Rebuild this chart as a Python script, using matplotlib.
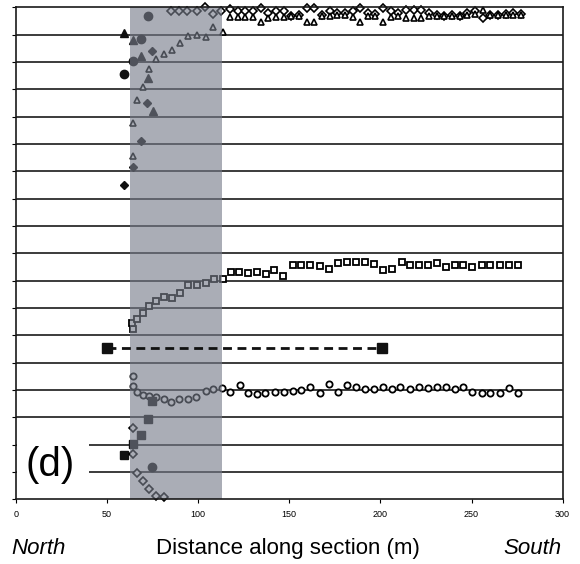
import matplotlib
matplotlib.use("Agg")
import matplotlib.pyplot as plt
from matplotlib.patches import Rectangle

plt.rcParams['font.family'] = ['Liberation Sans', 'DejaVu Sans']

# ---------------- data ----------------
# top row: open diamonds
dia_top_x = [84.8, 89.4, 94.0, 99.1, 103.7, 108.2, 112.3,
             117.5, 121.7, 125.9, 130.1, 134.3, 138.5, 142.7, 146.9, 151.1, 155.3,
             159.5, 163.7, 167.9, 172.1, 176.3, 180.5, 184.7, 188.9, 193.1, 197.3,
             201.5, 205.7, 209.9, 214.1, 218.3, 222.5, 226.7, 230.9, 235.1, 239.3,
             243.5, 247.7, 251.9, 256.1, 260.3, 264.5, 268.7, 272.9, 277.1]
dia_top_y = [17.87, 17.87, 17.87, 17.87, 18.02, 17.76, 17.87,
             17.95, 17.85, 17.85, 17.88, 17.97, 17.8, 17.88, 17.88, 17.7, 17.72,
             17.98, 17.98, 17.72, 17.85, 17.8, 17.8, 17.86, 17.98, 17.8, 17.75,
             17.98, 17.88, 17.78, 17.92, 17.9, 17.92, 17.8, 17.72, 17.7, 17.72,
             17.7, 17.78, 17.85, 17.6, 17.72, 17.72, 17.75, 17.78, 17.75]

# open triangles: rising curve in the shaded zone then top row
tri_open_x = [64.4, 64.4, 66.5, 69.5, 73.1, 76.8, 81.2, 85.4, 90.0, 94.5, 99.1,
              104.2, 108.2, 113.7,
              117.5, 121.7, 125.9, 130.1, 134.3, 138.5, 142.7, 146.9, 151.1, 155.3,
              159.5, 163.7, 167.9, 172.1, 176.3, 180.5, 184.7, 188.9, 193.1, 197.3,
              201.5, 205.7, 209.9, 214.1, 218.3, 222.5, 226.7, 230.9, 235.1, 239.3,
              243.5, 247.7, 251.9, 256.1, 260.3, 264.5, 268.7, 272.9, 277.1]
tri_open_y = [12.57, 13.76, 14.61, 15.07, 15.73, 16.1, 16.28, 16.44, 16.71, 16.95, 16.99,
              16.9, 17.29, 17.11,
              17.65, 17.65, 17.65, 17.65, 17.45, 17.62, 17.65, 17.65, 17.68, 17.68,
              17.45, 17.45, 17.68, 17.68, 17.72, 17.72, 17.65, 17.48, 17.68, 17.68,
              17.45, 17.65, 17.68, 17.62, 17.62, 17.62, 17.7, 17.7, 17.7, 17.7,
              17.7, 17.72, 17.75, 17.92, 17.72, 17.72, 17.72, 17.72, 17.72]

# filled symbols, upper left
tri_fill_x = [59.2, 64.4, 68.4, 72.6, 75.0]
tri_fill_y = [17.07, 16.8, 16.22, 15.4, 14.21]
circ_fill_x = [72.6, 68.4, 64.4, 59.2]
circ_fill_y = [17.69, 16.83, 16.04, 15.56]
dia_fill_x = [74.4, 72.0, 68.6, 64.4, 59.4]
dia_fill_y = [16.41, 14.5, 13.12, 12.17, 11.5]

# open squares
sq_x = [64.4, 63.5, 66.6, 69.5, 73.1, 76.8, 81.4, 85.4, 90.0, 94.5, 99.1, 104.2, 108.8, 113.4,
        117.9, 122.5, 127.1, 132.0, 137.0, 141.5, 146.6, 151.8, 156.5, 161.3, 166.6, 171.9,
        176.8, 181.4, 186.5, 191.4, 196.4, 201.5, 206.6, 211.6, 216.5, 221.2, 226.2, 231.1,
        235.9, 240.8, 245.4, 250.5, 255.5, 260.4, 265.5, 270.6, 275.5]
sq_y = [6.23, 6.46, 6.6, 6.81, 7.07, 7.26, 7.39, 7.35, 7.56, 7.84, 7.84, 7.9, 8.06, 8.05,
        8.31, 8.33, 8.29, 8.33, 8.23, 8.39, 8.18, 8.57, 8.57, 8.57, 8.55, 8.41,
        8.65, 8.7, 8.7, 8.7, 8.6, 8.4, 8.42, 8.7, 8.57, 8.57, 8.57, 8.63,
        8.5, 8.57, 8.57, 8.5, 8.57, 8.57, 8.57, 8.57, 8.57]

# dashed reference line
dash_x = [49.7, 201.1]
dash_y = [5.55, 5.55]

# open circles
circ_x = [64.4, 64.4, 66.2, 69.5, 73.1, 76.6, 81.2, 85.0, 89.6, 94.2, 98.7, 104.1, 108.2, 112.8,
          117.4, 122.9, 127.4, 132.0, 136.6, 142.1, 147.0, 151.8, 156.2, 161.3, 166.8, 171.9,
          176.8, 181.4, 186.5, 191.4, 196.4, 201.2, 206.1, 211.0, 216.1, 221.2, 226.2, 231.1,
          235.9, 240.8, 245.4, 250.5, 255.5, 260.4, 265.5, 270.6, 275.5]
circ_y = [4.51, 4.15, 3.94, 3.82, 3.78, 3.73, 3.66, 3.55, 3.66, 3.66, 3.75, 3.96, 4.02, 4.06,
          3.94, 4.18, 3.88, 3.85, 3.9, 3.94, 3.94, 3.97, 4.0, 4.12, 3.9, 4.22,
          3.94, 4.18, 4.12, 4.02, 4.02, 4.12, 4.02, 4.12, 4.02, 4.12, 4.06, 4.12,
          4.12, 4.02, 4.12, 3.94, 3.88, 3.88, 3.9, 4.06, 3.9]

# bottom group
sq_fill_x = [74.4, 72.2, 68.6, 64.4, 59.4]
sq_fill_y = [3.61, 2.93, 2.35, 2.01, 1.62]
circ_fill2_x = [74.8]
circ_fill2_y = [1.17]
dia_bot_x = [64.4, 64.4, 66.6, 69.5, 73.1, 76.6, 81.2]
dia_bot_y = [2.62, 1.66, 0.95, 0.68, 0.37, 0.12, 0.1]

# shaded zone, axis ticks, labels
shade_x0, shade_x1 = 62.5, 113.0
xticks = [0, 50, 100, 150, 200, 250, 300]
xlabel = "Distance along section (m)"
left_label, right_label = "North", "South"
panel_label = "(d)"

# ---------------- figure ----------------
fig = plt.figure(figsize=(5.8, 5.64), dpi=100)
ax = fig.add_axes([0.0276, 0.1147, 0.9424, 0.8723])
ax.set_xlim(0, 300)
ax.set_ylim(0, 18)

for yy in range(1, 18):
    ax.axhline(yy, color='#1a1a1a', lw=1.2, zorder=1)

k = 'black'
ax.plot(dia_top_x, dia_top_y, ls='none', marker='D', ms=3.6, mfc='white', mec=k, mew=1.2,
        zorder=2, clip_on=False)
ax.plot(tri_open_x, tri_open_y, ls='none', marker='^', ms=5, mfc='white', mec=k, mew=1.2,
        zorder=2, clip_on=False)
ax.plot(tri_fill_x, tri_fill_y, ls='none', marker='^', ms=5.5, color='#111111', zorder=2)
ax.plot(circ_fill_x, circ_fill_y, ls='none', marker='o', ms=6, color='#111111', zorder=2)
ax.plot(dia_fill_x, dia_fill_y, ls='none', marker='D', ms=4, color='#111111', zorder=2)
ax.plot(sq_x, sq_y, ls='none', marker='s', ms=5, mfc='white', mec=k, mew=1.3, zorder=2)
ax.plot(circ_x, circ_y, ls='none', marker='o', ms=4.5, mfc='white', mec=k, mew=1.3, zorder=2)
ax.plot(sq_fill_x, sq_fill_y, ls='none', marker='s', ms=6, color='#111111', zorder=2)
ax.plot(circ_fill2_x, circ_fill2_y, ls='none', marker='o', ms=6, color='#111111', zorder=2)
ax.plot(dia_bot_x, dia_bot_y, ls='none', marker='D', ms=3.6, mfc='white', mec=k, mew=1.2,
        zorder=2, clip_on=False)

# shaded zone drawn on top (semi-transparent)
ax.axvspan(shade_x0, shade_x1, color=(118/255, 123/255, 137/255), alpha=0.62, lw=0, zorder=3)

# dashed line
ax.plot(dash_x, dash_y, ls=(0, (3.2, 2.0)), lw=2.0, color='#111111', marker='s', ms=6.5,
        zorder=4)

# panel label with white box
ax.add_patch(Rectangle((0.4, 0.55), 39.5, 1.9, facecolor='white', edgecolor='none', zorder=4))
ax.text(18.9, 1.25, panel_label, fontsize=29, ha='center', va='center', zorder=5)

ax.set_xticks(xticks)
ax.set_xticklabels([str(v) for v in xticks], fontsize=6.5)
ax.set_yticks(range(0, 19))
ax.set_yticklabels([])
ax.tick_params(axis='x', direction='out', length=3, width=0.8, pad=5)
ax.tick_params(axis='y', direction='out', length=3, width=0.8)
for s in ax.spines.values():
    s.set_linewidth(1.2)
    s.set_color('#1a1a1a')
    s.set_zorder(6)

fig.text(0.02, 0.027, left_label, fontsize=16, style='italic', ha='left', va='center')
fig.text(0.4966, 0.027, xlabel, fontsize=16, ha='center', va='center')
fig.text(0.9685, 0.027, right_label, fontsize=16, style='italic', ha='right', va='center')

fig.savefig('out.png', dpi=100)
